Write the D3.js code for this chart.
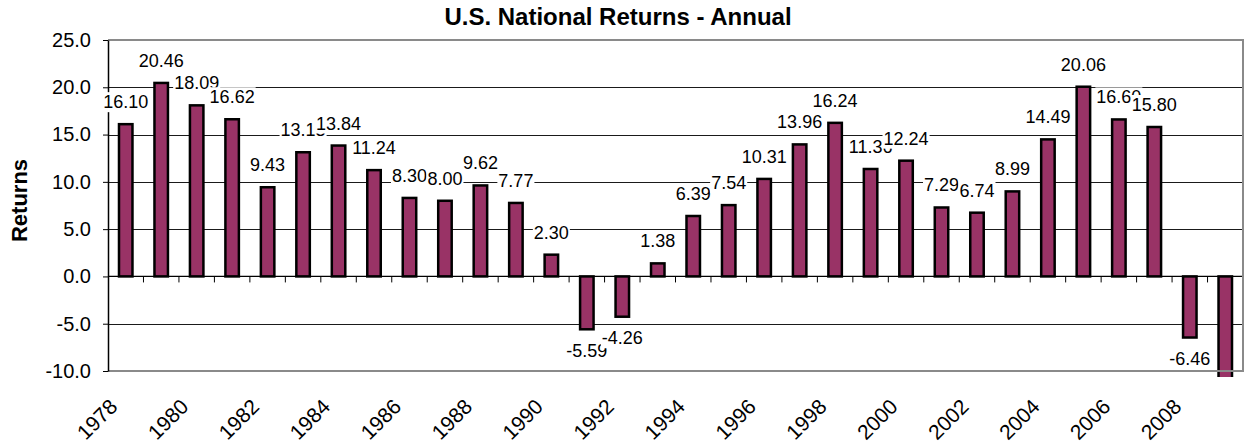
<!DOCTYPE html>
<html>
<head>
<meta charset="utf-8">
<script src="https://cdn.jsdelivr.net/npm/d3@7"></script>
<style>
  body { margin: 0; background: #fff; }
  text { font-family: "Liberation Sans", Arial, sans-serif; fill: #000; }
</style>
</head>
<body>
<svg id="chart" width="1244" height="443"></svg>
<script>
// data
const years = [1978, 1979, 1980, 1981, 1982, 1983, 1984, 1985, 1986, 1987, 1988,
  1989, 1990, 1991, 1992, 1993, 1994, 1995, 1996, 1997, 1998, 1999, 2000, 2001,
  2002, 2003, 2004, 2005, 2006, 2007, 2008, 2009];
const returns = [16.10, 20.46, 18.09, 16.62, 9.43, 13.13, 13.84, 11.24, 8.30, 8.00,
  9.62, 7.77, 2.30, -5.59, -4.26, 1.38, 6.39, 7.54, 10.31, 13.96, 16.24, 11.36,
  12.24, 7.29, 6.74, 8.99, 14.49, 20.06, 16.60, 15.80, -6.46, -16.85];
const yTicks = [25, 20, 15, 10, 5, 0, -5, -10];
const yearLabels = years.filter((d, i) => i % 2 === 0);

const svg = d3.select("#chart");
const width = +svg.attr("width");
const height = +svg.attr("height");
const margin = {top: 40, right: 1, bottom: 72, left: 108};
const innerW = width - margin.left - margin.right;
const innerH = height - margin.top - margin.bottom;

// hyphen minus like the original, not the unicode one
const locale = d3.formatLocale({decimal: ".", thousands: ",", grouping: [3], currency: ["$", ""], minus: "-"});
const fmtTick = locale.format(".1f");
const fmtVal = locale.format(".2f");

const x = d3.scaleBand().domain(years).range([0, innerW]).padding(0);
const y = d3.scaleLinear().domain([-10, 25]).range([innerH, 0]);
const bw = x.bandwidth();
const barW = bw * 0.38;

const data = years.map((yr, i) => ({year: yr, value: returns[i]}));

svg.append("text")
  .attr("x", 618)
  .attr("y", 25)
  .attr("text-anchor", "middle")
  .style("font-size", "24px")
  .style("font-weight", "bold")
  .text("U.S. National Returns - Annual");

svg.append("text")
  .attr("transform", "translate(27," + (margin.top + innerH / 2 - 5) + ") rotate(-90)")
  .attr("text-anchor", "middle")
  .style("font-size", "22px")
  .style("font-weight", "bold")
  .text("Returns");

const g = svg.append("g")
  .attr("transform", "translate(" + margin.left + "," + margin.top + ")");

g.append("defs").append("clipPath")
  .attr("id", "plotclip")
  .append("rect")
  .attr("x", 0)
  .attr("y", -10)
  .attr("width", innerW)
  .attr("height", innerH + 16);

// gridlines
g.append("g")
  .selectAll("line")
  .data(yTicks.filter(t => t !== 0 && t !== 25 && t !== -10))
  .enter().append("line")
  .attr("x1", 0)
  .attr("x2", innerW)
  .attr("y1", d => Math.round(y(d)) + 0.5)
  .attr("y2", d => Math.round(y(d)) + 0.5)
  .attr("stroke", "#1a1a1a")
  .attr("stroke-width", 1);

// bars
g.append("g")
  .attr("clip-path", "url(#plotclip)")
  .selectAll("rect")
  .data(data)
  .enter().append("rect")
  .attr("x", d => x(d.year) + (bw - barW) / 2)
  .attr("y", d => y(Math.max(0, d.value)))
  .attr("width", barW)
  .attr("height", d => Math.abs(y(d.value) - y(0)))
  .attr("fill", "#993366")
  .attr("stroke", "#000")
  .attr("stroke-width", 2.5);

// category axis at zero with ticks on band edges
g.append("line")
  .attr("x1", 0).attr("x2", innerW)
  .attr("y1", y(0)).attr("y2", y(0))
  .attr("stroke", "#000")
  .attr("stroke-width", 1.2);

g.append("g")
  .selectAll("line")
  .data(years)
  .enter().append("line")
  .attr("x1", d => x(d) + bw)
  .attr("x2", d => x(d) + bw)
  .attr("y1", y(0))
  .attr("y2", y(0) + 6)
  .attr("stroke", "#000")
  .attr("stroke-width", 1);

// plot border (top, right, bottom)
g.append("path")
  .attr("d", "M0,0H" + innerW + "V" + innerH + "H0")
  .attr("fill", "none")
  .attr("stroke", "#8a8a8a")
  .attr("stroke-width", 2);

// value axis
const yAxis = g.append("g")
  .call(d3.axisLeft(y).tickValues(yTicks).tickSize(5).tickSizeOuter(0).tickPadding(12).tickFormat(fmtTick));
yAxis.select(".domain").attr("stroke", "#000").attr("stroke-width", 1.5);
yAxis.selectAll(".tick line").attr("stroke", "#000");
yAxis.selectAll(".tick text")
  .style("font-size", "20px")
  .style("font-family", "'Liberation Sans', Arial, sans-serif")
  .attr("fill", "#000");

// year labels
g.append("g")
  .selectAll("text")
  .data(yearLabels)
  .enter().append("text")
  .attr("transform", d => "translate(" + (x(d) + bw / 2 - 7) + "," + (innerH + 37) + ") rotate(-45)")
  .attr("text-anchor", "end")
  .style("font-size", "21px")
  .text(d => d);

// data labels with white boxes, later ones cover earlier ones
const labelG = g.append("g");
data.filter(d => d.value >= y.domain()[0]).forEach(d => {
  const lg = labelG.append("g");
  const cx = x(d.year) + bw / 2;
  const ly = d.value >= 0 ? y(d.value) - 16 : y(d.value) + 27.5;
  const bg = lg.append("rect").attr("fill", "#fff");
  const t = lg.append("text")
    .attr("x", cx)
    .attr("y", ly)
    .attr("text-anchor", "middle")
    .style("font-size", "18px")
    .text(fmtVal(d.value));
  const bb = t.node().getBBox();
  bg.attr("x", bb.x - 1).attr("y", bb.y).attr("width", bb.width + 2).attr("height", bb.height);
});
</script>
</body>
</html>
